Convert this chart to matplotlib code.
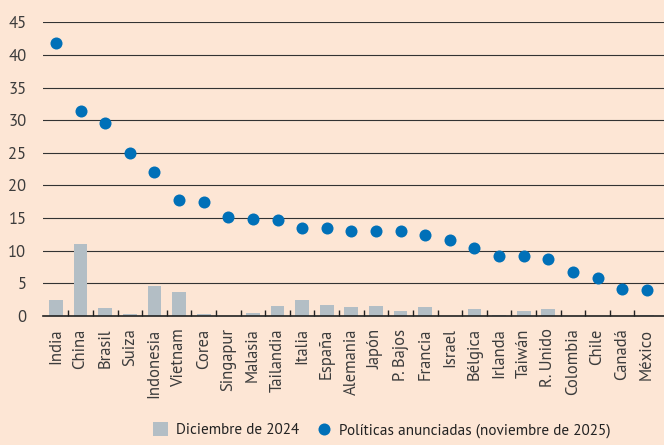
import matplotlib
matplotlib.use("Agg")
import matplotlib.pyplot as plt
import numpy as np

plt.rcParams["font.family"] = ["PT Sans", "Open Sans", "DejaVu Sans"]

PAISES = ["India", "China", "Brasil", "Suiza", "Indonesia", "Vietnam", "Corea",
          "Singapur", "Malasia", "Tailandia", "Italia", "España", "Alemania",
          "Japón", "P. Bajos", "Francia", "Israel", "Bélgica", "Irlanda", "Taiwán",
          "R. Unido", "Colombia", "Chile", "Canadá", "México"]
DIC_2024 = [2.4, 11.0, 1.2, 0.3, 4.6, 3.6, 0.3, 0.0, 0.4, 1.5, 2.4, 1.7, 1.3,
            1.5, 0.7, 1.3, 0.0, 1.0, 0.2, 0.8, 1.0, 0.0, 0.0, 0.0, 0.2]
NOV_2025 = [41.8, 31.4, 29.6, 25.0, 22.1, 17.8, 17.5, 15.2, 14.9, 14.7, 13.4,
            13.4, 13.0, 13.0, 13.0, 12.4, 11.6, 10.4, 9.25, 9.15, 8.8, 6.7, 5.75,
            4.15, 4.0]
Y_TICKS = [0, 5, 10, 15, 20, 25, 30, 35, 40, 45]

BG = "#FDE6D5"
GRIS = "#B3BEC5"
AZUL = "#0070B8"
TXT = "#3C3C3C"

fig = plt.figure(figsize=(6.64, 4.45), dpi=100, facecolor=BG)
ax = fig.add_axes([0.065, 0.29, 0.935, 0.66], facecolor=BG)

x = np.arange(len(PAISES))
barras = ax.bar(x, DIC_2024, 0.56, color=GRIS, zorder=2)
puntos = ax.scatter(x, NOV_2025, s=75, color=AZUL, zorder=3, linewidths=0)

ax.set_xlim(-0.52, len(PAISES) - 0.3)
ax.set_ylim(0, 45)
ax.set_yticks(Y_TICKS)
ax.yaxis.grid(True, color="#333333", linewidth=0.8, zorder=1)
ax.set_axisbelow(True)
ax.tick_params(axis="y", length=0, labelsize=12, labelcolor=TXT, pad=12)

ax.set_xticks(x)
ax.set_xticklabels(PAISES, rotation=90, fontsize=12, color=TXT)
ax.tick_params(axis="x", which="major", length=0, pad=9)
ax.set_xticks(x[:-1] + 0.5, minor=True)
ax.tick_params(axis="x", which="minor", direction="in", length=4, width=1, color="#222222")

for s in ["top", "right", "left"]:
    ax.spines[s].set_visible(False)
ax.spines["bottom"].set_color("#222222")
ax.spines["bottom"].set_linewidth(1.2)
ax.spines["bottom"].set_zorder(4)

leg = fig.legend([barras, puntos],
                 ["Diciembre de 2024", "Políticas anunciadas (noviembre de 2025)"],
                 loc="lower center", bbox_to_anchor=(0.575, -0.015), ncol=2,
                 frameon=False, fontsize=11, handlelength=1.0, handleheight=1.0,
                 columnspacing=1.1, handletextpad=0.5)
for t in leg.get_texts():
    t.set_color("#222222")

fig.savefig("out.png", dpi=100, facecolor=BG)
